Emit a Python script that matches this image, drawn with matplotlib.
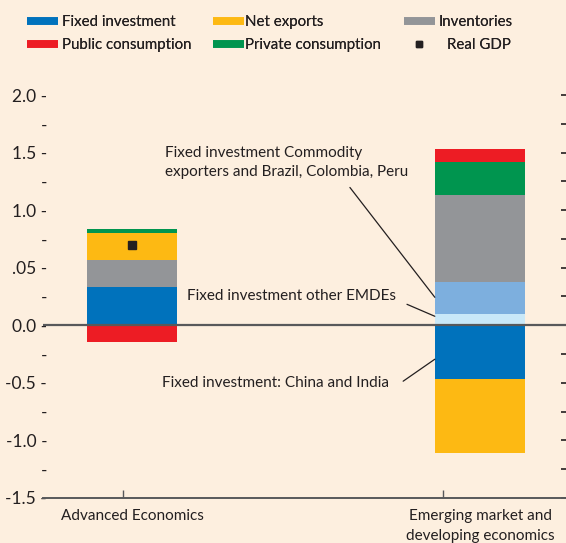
import matplotlib
matplotlib.use('Agg')
import matplotlib.pyplot as plt
from matplotlib.lines import Line2D
import numpy as np

plt.rcParams['font.family'] = ['Lato', 'DejaVu Sans']

BG = '#FDEFDF'
TXT = '#231F20'
AXC = '#58595B'

groups = ['Advanced Economics', 'Emerging market and\ndeveloping economics']

# stacked components (positive parts drawn upward, negative downward)
fixed_china_india = [0.33, -0.47]
fixed_other = [0.0, 0.10]
fixed_commodity = [0.0, 0.28]
inventories = [0.24, 0.75]
net_exports = [0.23, -0.64]
private_cons = [0.035, 0.29]
public_cons = [-0.145, 0.11]
real_gdp = [0.70, None]

COL = {
    'fixed': '#0072BC',
    'other': '#C9E8F8',
    'commodity': '#7DAFDE',
    'inv': '#939598',
    'net': '#FDB913',
    'priv': '#00954F',
    'pub': '#ED1C24',
}

series = [
    (fixed_china_india, COL['fixed']),
    (fixed_other, COL['other']),
    (fixed_commodity, COL['commodity']),
    (inventories, COL['inv']),
    (net_exports, COL['net']),
    (private_cons, COL['priv']),
    (public_cons, COL['pub']),
]

fig = plt.figure(figsize=(5.66, 5.43), dpi=100, facecolor=BG)
ax = fig.add_axes([0.076, 0.083, 0.924, 0.742], facecolor=BG)

x = np.arange(len(groups))
w = 0.26
pos_base = np.zeros(len(groups))
neg_base = np.zeros(len(groups))
for vals, c in series:
    for i, v in enumerate(vals):
        if v >= 0:
            ax.bar(x[i], v, w, bottom=pos_base[i], color=c, linewidth=0, zorder=2)
            pos_base[i] += v
        else:
            ax.bar(x[i], v, w, bottom=neg_base[i], color=c, linewidth=0, zorder=2)
            neg_base[i] += v

for i, g in enumerate(real_gdp):
    if g is not None:
        ax.plot(x[i], g, marker='s', color=TXT, ms=6, ls='none', zorder=4)

ax.axhline(0, color=AXC, lw=1.6, zorder=3)

ax.set_xlim(-0.256, 1.247)
ax.set_ylim(-1.5, 2.0)

for s in ['top', 'right', 'left']:
    ax.spines[s].set_visible(False)
ax.spines['bottom'].set_color(AXC)
ax.spines['bottom'].set_linewidth(1.4)

# y ticks drawn as text dashes on the left, small inward ticks on the right
major = [2.0, 1.5, 1.0, 0.5, 0.0, -0.5, -1.0, -1.5]
major_lbl = ['2.0 -', '1.5 -', '1.0 -', '.05 -', '0.0 -', '-0.5 -', '-1.0 -', '-1.5 -']
minor = [1.75, 1.25, 0.75, 0.25, -0.25, -0.75, -1.25]
ax.set_yticks(major)
ax.set_yticklabels(major_lbl)
ax.set_yticks(minor, minor=True)
ax.set_yticklabels(['-'] * len(minor), minor=True)
ax.tick_params(axis='y', which='both', left=False, right=True, direction='in',
               length=3.5, width=1.2, color=TXT, pad=-3, labelsize=12.5,
               labelcolor=TXT)

ax.set_xticks(x)
ax.set_xticklabels(groups, fontsize=11, color=TXT, linespacing=1.5)
ax.tick_params(axis='x', which='major', length=0, pad=8)
ax.set_xticks([-0.026, 0.894], minor=True)
ax.tick_params(axis='x', which='minor', direction='in', length=6, width=1, color=AXC)

# annotations
ax.text(0.095, 1.41, 'Fixed investment Commodity\nexporters and Brazil, Colombia, Peru',
        fontsize=11, color=TXT, ha='left', va='center', linespacing=1.45)
ax.annotate('', xy=(1 - w / 2, 0.243), xytext=(0.626, 1.197),
            arrowprops=dict(arrowstyle='-', color=TXT, lw=0.9, shrinkA=0, shrinkB=0))
ax.text(0.158, 0.252, 'Fixed investment other EMDEs', fontsize=11, color=TXT,
        ha='left', va='center')
ax.annotate('', xy=(1 - w / 2, 0.078), xytext=(0.790, 0.182),
            arrowprops=dict(arrowstyle='-', color=TXT, lw=0.9, shrinkA=0, shrinkB=0))
ax.text(0.086, -0.503, 'Fixed investment: China and India', fontsize=11, color=TXT,
        ha='left', va='center')
ax.annotate('', xy=(1 - w / 2, -0.295), xytext=(0.779, -0.486),
            arrowprops=dict(arrowstyle='-', color=TXT, lw=0.9, shrinkA=0, shrinkB=0))

# legend: one small legend per entry so the loose layout can be matched
def bar_handle(c, lbl):
    return Line2D([0], [0], color=c, lw=5.5, solid_capstyle='butt', label=lbl)

leg_entries = [
    (bar_handle(COL['fixed'], 'Fixed investment'), 27, 22, 0.25),
    (bar_handle(COL['pub'], 'Public consumption'), 27, 45, 0.25),
    (bar_handle(COL['net'], 'Net exports'), 213, 22, 0.1),
    (bar_handle(COL['priv'], 'Private consumption'), 213, 45, 0.1),
    (bar_handle(COL['inv'], 'Inventories'), 404, 22, 0.25),
    (Line2D([0], [0], color=TXT, marker='s', ms=5, ls='none', label='Real GDP'),
     404, 45, 0.8),
]
for h, px, py, tp in leg_entries:
    lg = fig.legend(handles=[h], loc='center left',
                    bbox_to_anchor=(px / 566, 1 - py / 543), frameon=False,
                    fontsize=10.8, handlelength=2.05, handletextpad=tp,
                    borderpad=0, borderaxespad=0, labelcolor=TXT)
    fig.add_artist(lg)

fig.savefig('out.png', dpi=100, facecolor=BG)
